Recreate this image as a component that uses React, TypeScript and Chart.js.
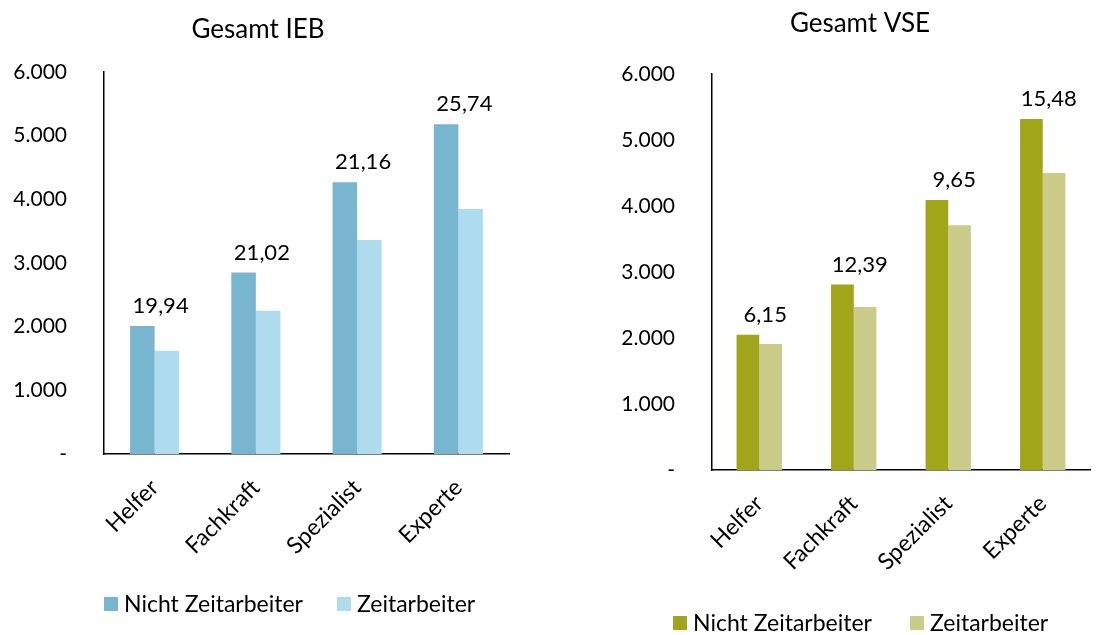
import React, { useEffect, useRef } from "react";
import { Chart, registerables } from "chart.js";

Chart.register(...registerables);

const categories = ["Helfer", "Fachkraft", "Spezialist", "Experte"];
const seriesNames = ["Nicht Zeitarbeiter", "Zeitarbeiter"];
const yTickValues = [0, 1000, 2000, 3000, 4000, 5000, 6000];

const iebNicht = [2010, 2850, 4270, 5180];
const iebZeit = [1620, 2250, 3360, 3850];
const iebGap = [19.94, 21.02, 21.16, 25.74];

const vseNicht = [2050, 2810, 4090, 5320];
const vseZeit = [1910, 2470, 3710, 4500];
const vseGap = [6.15, 12.39, 9.65, 15.48];

const FONT = "Lato, 'Open Sans', sans-serif";

const fmtThousands = (v: number) =>
  v === 0 ? "-" : String(Math.round(v)).replace(/\B(?=(\d{3})+(?!\d))/g, ".");
const fmtGap = (v: number) => v.toFixed(2).replace(".", ",");

const overlayPlugin = {
  id: "overlay",
  afterDraw(chart: any, _args: any, opts: any) {
    const ctx = chart.ctx;
    ctx.save();
    ctx.fillStyle = "#000";
    ctx.textAlign = "center";
    ctx.textBaseline = "middle";
    ctx.font = `${opts.titleSize}px ${FONT}`;
    ctx.fillText(opts.title, opts.titleX, opts.titleY);

    const meta0 = chart.getDatasetMeta(0);
    const xs = chart.scales.x;
    ctx.font = `22px ${FONT}`;
    (opts.labels as number[]).forEach((v, i) => {
      const bar = meta0.data[i];
      ctx.fillText(fmtGap(v), xs.getPixelForValue(i) + opts.labelDx, bar.y - opts.labelDy);
    });

    ctx.font = `23px ${FONT}`;
    ctx.textAlign = "left";
    let x = opts.legendX;
    chart.data.datasets.forEach((ds: any) => {
      ctx.fillStyle = ds.backgroundColor;
      ctx.fillRect(x, opts.legendY - 7, 14, 14);
      ctx.fillStyle = "#000";
      ctx.fillText(ds.label, x + 20, opts.legendY + 1);
      x += 20 + ctx.measureText(ds.label).width + opts.legendGap;
    });
    ctx.restore();
  },
};

type Cfg = {
  nicht: number[];
  zeit: number[];
  gap: number[];
  colors: [string, string];
  title: string;
  width: number;
  pad: { top: number; bottom: number; left: number; right: number };
  yAxisWidth: number;
  yPad: number;
  catPct: number;
  titleX: number;
  titleY: number;
  legendX: number;
  legendY: number;
  legendGap: number;
};

function BarChart({ cfg, left }: { cfg: Cfg; left: number }) {
  const ref = useRef<HTMLCanvasElement | null>(null);
  useEffect(() => {
    if (!ref.current) return;
    const chart = new Chart(ref.current, {
      type: "bar",
      data: {
        labels: categories,
        datasets: [
          {
            label: seriesNames[0],
            data: cfg.nicht,
            backgroundColor: cfg.colors[0],
            barPercentage: 1,
            categoryPercentage: cfg.catPct,
          },
          {
            label: seriesNames[1],
            data: cfg.zeit,
            backgroundColor: cfg.colors[1],
            barPercentage: 1,
            categoryPercentage: cfg.catPct,
          },
        ],
      },
      options: {
        responsive: false,
        animation: false,
        layout: { padding: cfg.pad },
        plugins: {
          legend: { display: false },
          title: { display: false },
          tooltip: { enabled: false },
          overlay: {
            title: cfg.title,
            titleSize: 26,
            titleX: cfg.titleX,
            titleY: cfg.titleY,
            labels: cfg.gap,
            labelDx: 6,
            labelDy: 20,
            legendX: cfg.legendX,
            legendY: cfg.legendY,
            legendGap: cfg.legendGap,
          },
        } as any,
        scales: {
          x: {
            grid: { display: false, drawTicks: false },
            border: { display: true, color: "#000", width: 1.5 },
            ticks: {
              autoSkip: false,
              maxRotation: 45,
              minRotation: 45,
              padding: 20,
              color: "#000",
              font: { family: FONT, size: 23 },
            },
            afterFit: (s: any) => {
              s.height = 130;
            },
          },
          y: {
            min: 0,
            max: 6000,
            grid: { display: false, drawTicks: false },
            border: { display: true, color: "#000", width: 1.5 },
            afterBuildTicks: (s: any) => {
              s.ticks = yTickValues.map((v) => ({ value: v }));
            },
            ticks: {
              padding: cfg.yPad,
              color: "#000",
              font: { family: FONT, size: 21 },
              callback: (v: any) => fmtThousands(Number(v)),
            },
            afterFit: (s: any) => {
              s.width = cfg.yAxisWidth;
            },
          },
        },
      },
      plugins: [overlayPlugin],
    });
    return () => chart.destroy();
  }, [cfg]);
  return (
    <canvas
      ref={ref}
      width={cfg.width}
      height={635}
      style={{ position: "absolute", left, top: 0, width: cfg.width, height: 635 }}
    />
  );
}

const leftCfg: Cfg = {
  nicht: iebNicht,
  zeit: iebZeit,
  gap: iebGap,
  colors: ["#78B5CE", "#AEDCEE"],
  title: "Gesamt IEB",
  width: 555,
  pad: { top: 72, bottom: 51, left: 0, right: 46 },
  yAxisWidth: 104,
  yPad: 37,
  catPct: 0.485,
  titleX: 258,
  titleY: 30,
  legendX: 104,
  legendY: 604,
  legendGap: 34,
};

const rightCfg: Cfg = {
  nicht: vseNicht,
  zeit: vseZeit,
  gap: vseGap,
  colors: ["#A1A51A", "#CBCC89"],
  title: "Gesamt VSE",
  width: 554,
  pad: { top: 74, bottom: 35, left: 0, right: 19 },
  yAxisWidth: 157,
  yPad: 37,
  catPct: 0.48,
  titleX: 305,
  titleY: 24,
  legendX: 118,
  legendY: 623,
  legendGap: 38,
};

export default function App() {
  return (
    <div style={{ position: "absolute", left: 0, top: 0, width: 1109, height: 635, background: "#fff" }}>
      <BarChart cfg={leftCfg} left={0} />
      <BarChart cfg={rightCfg} left={555} />
    </div>
  );
}
